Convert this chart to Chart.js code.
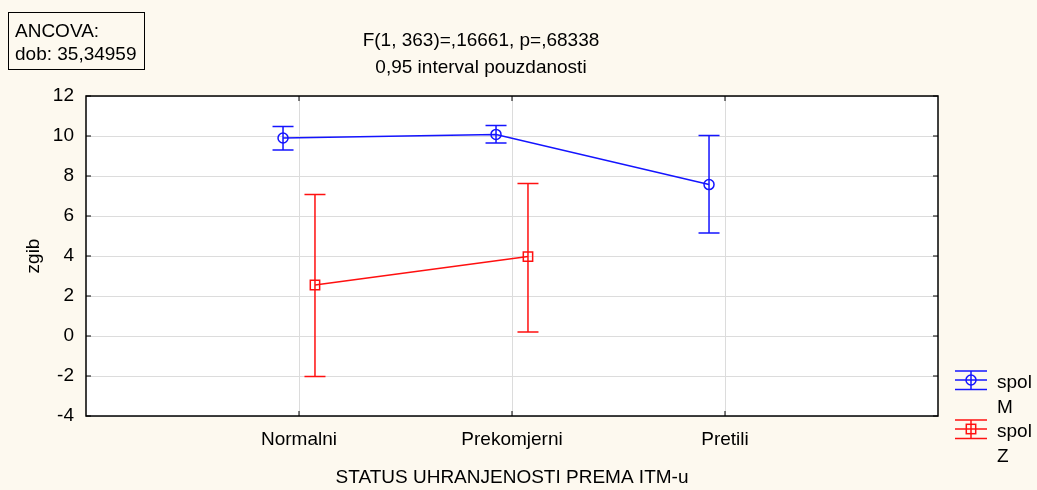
<!DOCTYPE html>
<html>
<head>
<meta charset="utf-8">
<script src="https://cdn.jsdelivr.net/npm/chart.js@4.4.1/dist/chart.umd.min.js"></script>
<style>
  html, body { margin: 0; padding: 0; background: #fdf9ef; }
  #wrap { position: relative; width: 1037px; height: 490px; font-family: "Liberation Sans", Arial, sans-serif; font-size: 19px; color: #000; }
  #c { position: absolute; left: 0; top: 0; }
  .abs { position: absolute; white-space: nowrap; }
  #box { left: 8px; top: 12px; width: 137px; height: 58px; box-sizing: border-box; border: 1.5px solid #000; padding: 6px 0 0 6px; line-height: 23.4px; }
  #title { left: 281px; top: 27px; width: 400px; text-align: center; line-height: 26.5px; }
  .leg { position: absolute; left: 954px; line-height: 25px; }
  .leg svg { position: absolute; left: 0; top: 1px; }
  .leg span { position: absolute; left: 43px; top: 0; }
</style>
</head>
<body>
<div id="wrap">
  <canvas id="c" width="1037" height="490"></canvas>
  <div class="abs" id="box">ANCOVA:<br>dob: 35,34959</div>
  <div class="abs" id="title">F(1, 363)=,16661, p=,68338<br>0,95 interval pouzdanosti</div>
  <div id="legend"></div>
</div>
<script>
// categories and values
const categories = ['Normalni', 'Prekomjerni', 'Pretili'];
const seriesNames = ['M', 'Z'];

const mMean = [9.9, 10.08, 7.57];
const mLow = [9.3, 9.65, 5.15];
const mHigh = [10.47, 10.52, 10.02];

const zMean = [2.55, 3.97, null];
const zLow = [-2.03, 0.2, null];
const zHigh = [7.07, 7.63, null];

const yTicks = [-4, -2, 0, 2, 4, 6, 8, 10, 12];

const blue = '#1414ff';
const red = '#ff1010';
const gridColor = '#dcdcdc';

function points(means, shift) {
    return means.map((v, i) => ({ x: i + 1 + shift, y: v }));
}

const series = [
    { name: seriesNames[0], mean: mMean, low: mLow, high: mHigh, color: blue, shift: -0.075, style: 'circle', radius: 5 },
    { name: seriesNames[1], mean: zMean, low: zLow, high: zHigh, color: red, shift: 0.075, style: 'rect', radius: 6.6 }
];

// error bars drawn through the chart scales
const errorBars = {
    id: 'errorBars',
    afterDatasetsDraw(chart) {
        const ctx = chart.ctx;
        const xs = chart.scales.x, ys = chart.scales.y;
        ctx.save();
        ctx.lineWidth = 1.5;
        series.forEach(s => {
            ctx.strokeStyle = s.color;
            s.mean.forEach((m, i) => {
                if (m === null) return;
                const x = xs.getPixelForValue(i + 1 + s.shift);
                const y1 = ys.getPixelForValue(s.low[i]);
                const y2 = ys.getPixelForValue(s.high[i]);
                ctx.beginPath();
                ctx.moveTo(x, y1); ctx.lineTo(x, y2);
                ctx.moveTo(x - 10.5, y1); ctx.lineTo(x + 10.5, y1);
                ctx.moveTo(x - 10.5, y2); ctx.lineTo(x + 10.5, y2);
                ctx.stroke();
            });
        });
        ctx.restore();
    }
};

// white plot area, black frame and inward ticks
const frame = {
    id: 'frame',
    beforeDraw(chart) {
        const a = chart.chartArea;
        chart.ctx.save();
        chart.ctx.fillStyle = '#ffffff';
        chart.ctx.fillRect(a.left, a.top, a.right - a.left, a.bottom - a.top);
        chart.ctx.restore();
    },
    afterDraw(chart) {
        const ctx = chart.ctx, a = chart.chartArea;
        const xs = chart.scales.x, ys = chart.scales.y;
        ctx.save();
        ctx.strokeStyle = '#000';
        ctx.lineWidth = 1;
        ctx.beginPath();
        yTicks.forEach(t => {
            const y = ys.getPixelForValue(t);
            ctx.moveTo(a.left, y); ctx.lineTo(a.left + 5, y);
            ctx.moveTo(a.right, y); ctx.lineTo(a.right - 5, y);
        });
        categories.forEach((c, i) => {
            const x = xs.getPixelForValue(i + 1);
            ctx.moveTo(x, a.bottom); ctx.lineTo(x, a.bottom - 5);
            ctx.moveTo(x, a.top); ctx.lineTo(x, a.top + 5);
        });
        ctx.stroke();
        ctx.lineWidth = 1.5;
        ctx.strokeRect(a.left, a.top, a.right - a.left, a.bottom - a.top);
        ctx.restore();
    }
};

Chart.defaults.font.family = '"Liberation Sans", Arial, sans-serif';
Chart.defaults.font.size = 19;
Chart.defaults.color = '#000';

new Chart(document.getElementById('c'), {
    type: 'line',
    data: {
        datasets: series.map(s => ({
            label: 'spol ' + s.name,
            data: points(s.mean, s.shift),
            borderColor: s.color,
            borderWidth: 1.5,
            backgroundColor: 'rgba(0,0,0,0)',
            pointStyle: s.style,
            pointRadius: s.radius,
            pointBorderWidth: 1.5,
            pointBorderColor: s.color,
            pointBackgroundColor: 'rgba(0,0,0,0)',
            spanGaps: false,
            tension: 0
        }))
    },
    options: {
        responsive: false,
        animation: false,
        layout: { padding: { top: 96, right: 99, bottom: 0, left: 0 } },
        plugins: { legend: { display: false }, tooltip: { enabled: false } },
        scales: {
            x: {
                type: 'linear',
                min: 0,
                max: 4,
                afterFit: s => { s.height = 74; },
                border: { display: false },
                grid: {
                    drawTicks: false,
                    color: c => (c.tick.value === 0 || c.tick.value === 4) ? 'rgba(0,0,0,0)' : gridColor
                },
                ticks: {
                    stepSize: 1,
                    autoSkip: false,
                    maxRotation: 0,
                    padding: 12,
                    callback: v => categories[v - 1] || ''
                },
                title: { display: true, text: 'STATUS UHRANJENOSTI PREMA ITM-u', padding: { top: 0, bottom: 1 } }
            },
            y: {
                min: -4,
                max: 12,
                afterFit: s => { s.width = 86; },
                border: { display: false },
                grid: { drawTicks: false, color: gridColor },
                ticks: { stepSize: 2, padding: 12 },
                title: { display: true, text: 'zgib', padding: { top: 22, bottom: 0 } }
            }
        }
    },
    plugins: [frame, errorBars]
});

// legend
const legendTops = [369, 418];
const legend = document.getElementById('legend');
series.forEach((s, i) => {
    const mark = s.style === 'circle'
        ? '<circle cx="17" cy="10" r="5" fill="none" stroke="' + s.color + '" stroke-width="1.5"/>'
        : '<rect x="12.3" y="5.3" width="9.4" height="9.4" fill="none" stroke="' + s.color + '" stroke-width="1.5"/>';
    const d = document.createElement('div');
    d.className = 'leg';
    d.style.top = legendTops[i] + 'px';
    d.innerHTML = '<svg width="34" height="22"><g stroke="' + s.color + '" stroke-width="1.5">' +
        '<line x1="1" y1="1" x2="33" y2="1"/><line x1="1" y1="10" x2="33" y2="10"/>' +
        '<line x1="1" y1="19.5" x2="33" y2="19.5"/><line x1="17" y1="1" x2="17" y2="19.5"/></g>' + mark + '</svg>' +
        '<span>spol<br>' + s.name + '</span>';
    legend.appendChild(d);
});
</script>
</body>
</html>
